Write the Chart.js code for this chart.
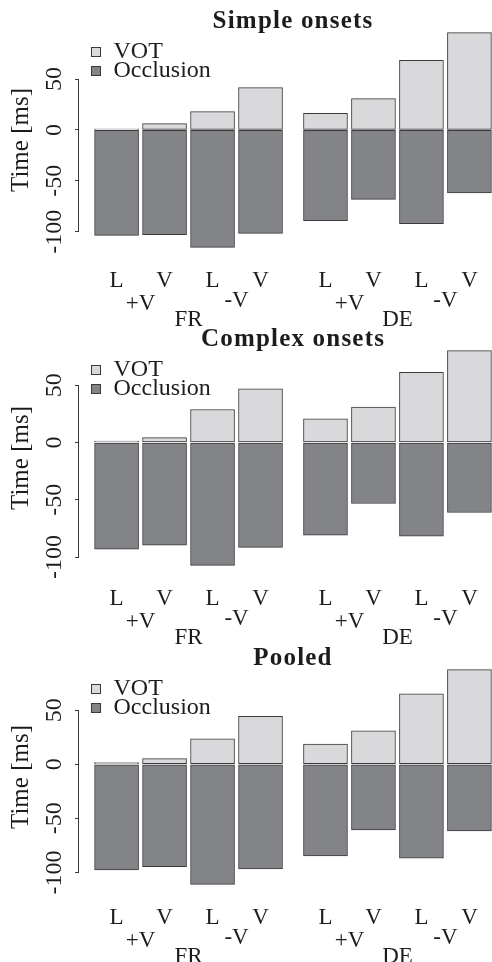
<!DOCTYPE html>
<html>
<head>
<meta charset="utf-8">
<script src="https://cdn.jsdelivr.net/npm/chart.js@4.4.1/dist/chart.umd.min.js"></script>
<style>
  html, body { margin: 0; padding: 0; background: #ffffff; }
  #wrap { position: relative; width: 492px; height: 962px; overflow: hidden; background: #ffffff; }
  canvas { position: absolute; left: 0; }
</style>
</head>
<body>
<div id="wrap">
  <canvas id="c1" width="520" height="340" style="top:2px"></canvas>
  <canvas id="c2" width="520" height="340" style="top:320px"></canvas>
  <canvas id="c3" width="520" height="340" style="top:639px"></canvas>
</div>
<script>
// ---------- data ----------
const barLabels   = ['L', 'V', 'L', 'V', 'L', 'V', 'L', 'V'];
const voicingLabels = ['+V', '-V', '+V', '-V'];
const languageLabels = ['FR', 'DE'];
const seriesNames = ['VOT', 'Occlusion'];
const panelTitles = ['Simple onsets', 'Complex onsets', 'Pooled'];
const yTicks = [-100, -50, 0, 50];

const simpleVOT = [1, 6.2, 18, 41.6, 16.3, 30.8, 68.4, 95.6];
const simpleOcc = [-103.6, -102.9, -115.4, -101.6, -89.2, -68.2, -92.1, -62];
const complexVOT = [1.2, 4.2, 28.8, 46.8, 20.7, 30.8, 61.3, 80.2];
const complexOcc = [-93.1, -89.6, -107.3, -91.6, -80.9, -53.3, -81.7, -61.1];
const pooledVOT = [1.5, 5.2, 23.6, 44.2, 18.6, 31, 65.1, 87.5];
const pooledOcc = [-97.6, -94.8, -111.1, -96.7, -84.7, -60.7, -86.8, -61.6];

// ---------- styles ----------
const VOT_FILL = '#d9d9db';
const OCC_FILL = '#838488';
const EDGE = '#3a3a3a';
const INK = '#1c1c1c';
const SERIF = '"Liberation Serif", "Times New Roman", serif';
const GROUP_GAP = 0.354;   // extra space between the FR and DE groups (in bar pitches)
const X_MARGIN = 0.783;    // space between plot edge and outer bars (in bar pitches)

// bar slot positions on the linear x scale
const slots = barLabels.map((_, i) => i + (i >= 4 ? GROUP_GAP : 0));

const decor = {
  id: 'rdecor',
  afterDraw(chart, args, opts) {
    const {ctx, chartArea: ca, scales: {x, y}} = chart;
    ctx.save();
    // y axis line from first to last tick (R style)
    ctx.strokeStyle = EDGE;
    ctx.lineWidth = 1;
    ctx.beginPath();
    const ax = Math.floor(ca.left) - 0.5;
    ctx.moveTo(ax, y.getPixelForValue(yTicks[0]));
    ctx.lineTo(ax, y.getPixelForValue(yTicks[yTicks.length - 1]));
    ctx.stroke();

    // title
    ctx.fillStyle = INK;
    ctx.font = 'bold 25px ' + SERIF;
    ctx.textAlign = 'center';
    ctx.textBaseline = 'alphabetic';
    ctx.letterSpacing = '1.2px';
    ctx.fillText(opts.title, (ca.left + ca.right) / 2, ca.top + 3.5);
    ctx.letterSpacing = '0px';

    // legend
    const fills = chart.data.datasets.map(d => d.backgroundColor);
    ctx.font = '24px ' + SERIF;
    ctx.textAlign = 'left';
    chart.data.datasets.forEach((d, i) => {
      const top = ca.top + 23 + i * 19;
      const left = ca.left + 12;
      ctx.fillStyle = fills[i];
      ctx.fillRect(left, top, 10, 10);
      ctx.strokeStyle = EDGE;
      ctx.strokeRect(left + 0.5, top + 0.5, 9, 9);
      ctx.fillStyle = INK;
      ctx.fillText(d.label, left + 22.5, top + 10.6);
    });

    // x labels
    ctx.font = '23px ' + SERIF;
    ctx.textAlign = 'center';
    const px = slots.map(s => x.getPixelForValue(s));
    barLabels.forEach((t, i) => ctx.fillText(t, px[i], ca.bottom + 30.7));
    voicingLabels.forEach((t, i) => {
      const cx = (px[2 * i] + px[2 * i + 1]) / 2;
      const dy = t.startsWith('+') ? 54.4 : 51.1;
      ctx.fillText(t, cx, ca.bottom + dy);
    });
    languageLabels.forEach((t, i) => {
      const cx = (px[4 * i] + px[4 * i + 3]) / 2;
      ctx.fillText(t, cx, ca.bottom + 70);
    });
    ctx.restore();
  }
};

function makePanel(id, title, vot, occ) {
  const all = vot.concat(occ);
  const lo = Math.min(0, ...all), hi = Math.max(0, ...all);
  const ext = 0.04 * (hi - lo);
  const common = {
    barThickness: 44,
    borderColor: EDGE,
    borderWidth: 1,
    borderSkipped: false
  };
  return new Chart(document.getElementById(id), {
    type: 'bar',
    data: {
      datasets: [
        Object.assign({
          label: seriesNames[0],
          data: slots.map((s, i) => ({x: s, y: vot[i]})),
          backgroundColor: VOT_FILL
        }, common),
        Object.assign({
          label: seriesNames[1],
          data: slots.map((s, i) => ({x: s, y: occ[i]})),
          backgroundColor: OCC_FILL
        }, common)
      ]
    },
    options: {
      responsive: false,
      animation: false,
      devicePixelRatio: 1,
      layout: {padding: {left: 0, right: 13, top: 22, bottom: 86}},
      plugins: {
        legend: {display: false},
        title: {display: false},
        tooltip: {enabled: false},
        rdecor: {title: title}
      },
      scales: {
        x: {
          type: 'linear',
          display: false,
          offset: false,
          stacked: true,
          min: slots[0] - X_MARGIN,
          max: slots[slots.length - 1] + X_MARGIN
        },
        y: {
          stacked: true,
          min: lo - ext,
          max: hi + ext,
          afterBuildTicks: s => { s.ticks = yTicks.map(v => ({value: v})); },
          afterFit: s => { s.width = 79; },
          border: {display: false},
          grid: {drawOnChartArea: false, drawTicks: true, tickLength: 4, color: EDGE, lineWidth: 1},
          ticks: {
            minRotation: 90,
            maxRotation: 90,
            crossAlign: 'center',
            padding: -2,
            color: INK,
            font: {family: SERIF, size: 24},
            callback: v => String(v)
          },
          title: {
            display: true,
            text: 'Time [ms]',
            color: INK,
            font: {family: SERIF, size: 25},
            padding: {top: 6, bottom: 0}
          }
        }
      }
    },
    plugins: [decor]
  });
}

makePanel('c1', panelTitles[0], simpleVOT, simpleOcc);
makePanel('c2', panelTitles[1], complexVOT, complexOcc);
makePanel('c3', panelTitles[2], pooledVOT, pooledOcc);
</script>
</body>
</html>
